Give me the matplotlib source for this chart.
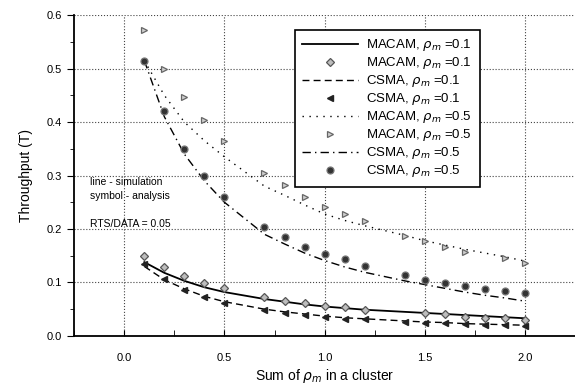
import matplotlib
matplotlib.use('Agg')
from matplotlib import pyplot as plt
from matplotlib.ticker import MultipleLocator

# x grid of the simulation / analysis points
x_all = [0.1, 0.2, 0.3, 0.4, 0.5, 0.7, 0.8, 0.9, 1.0, 1.1, 1.2, 1.4, 1.5, 1.6, 1.7, 1.8, 1.9, 2.0]

# simulation curves (lines)
macam01_sim = [0.138, 0.118, 0.103, 0.091, 0.082, 0.069, 0.064, 0.059, 0.055, 0.052, 0.049, 0.045, 0.043, 0.041, 0.039, 0.037, 0.035, 0.033]
csma01_sim = [0.130, 0.105, 0.088, 0.074, 0.064, 0.050, 0.045, 0.041, 0.037, 0.034, 0.032, 0.028, 0.026, 0.025, 0.023, 0.022, 0.021, 0.020]
macam05_sim = [0.515, 0.450, 0.400, 0.365, 0.335, 0.280, 0.263, 0.245, 0.228, 0.216, 0.206, 0.188, 0.178, 0.170, 0.162, 0.155, 0.148, 0.140]
csma05_sim = [0.515, 0.410, 0.340, 0.290, 0.250, 0.190, 0.172, 0.155, 0.141, 0.129, 0.119, 0.103, 0.096, 0.089, 0.082, 0.076, 0.071, 0.065]

# analysis points (symbols)
x_macam01 = [0.1, 0.2, 0.3, 0.4, 0.5, 0.7, 0.8, 0.9, 1.0, 1.1, 1.2, 1.5, 1.6, 1.7, 1.8, 1.9, 2.0]
macam01_ana = [0.150, 0.129, 0.112, 0.099, 0.090, 0.073, 0.066, 0.062, 0.056, 0.054, 0.049, 0.042, 0.041, 0.036, 0.034, 0.033, 0.030]
csma01_ana = [0.134, 0.107, 0.086, 0.073, 0.062, 0.049, 0.043, 0.039, 0.036, 0.032, 0.031, 0.026, 0.024, 0.024, 0.022, 0.021, 0.020, 0.019]
x_macam05 = [0.1, 0.2, 0.3, 0.4, 0.5, 0.7, 0.8, 0.9, 1.0, 1.1, 1.2, 1.4, 1.5, 1.6, 1.7, 1.9, 2.0]
macam05_ana = [0.572, 0.500, 0.447, 0.404, 0.364, 0.305, 0.282, 0.260, 0.241, 0.228, 0.215, 0.187, 0.178, 0.167, 0.157, 0.146, 0.136]
csma05_ana = [0.515, 0.420, 0.350, 0.300, 0.260, 0.204, 0.185, 0.167, 0.153, 0.144, 0.131, 0.114, 0.105, 0.099, 0.093, 0.088, 0.084, 0.080]

x_ticks = [0.0, 0.5, 1.0, 1.5, 2.0]
y_ticks = [0.0, 0.1, 0.2, 0.3, 0.4, 0.5, 0.6]

plt.rcParams['font.family'] = ['Liberation Sans', 'DejaVu Sans']
plt.rcParams['mathtext.fontset'] = 'dejavusans'

fig = plt.figure(figsize=(5.75, 3.87), dpi=100)
ax = fig.add_axes([0.129, 0.132, 0.871, 0.829])

lab = lambda name, v: name + r', $\rho_m$ =' + v

ax.plot(x_all, macam01_sim, color='black', lw=1.3, label=lab('MACAM', '0.1'))
ax.plot(x_macam01, macam01_ana, ls='none', marker='D', ms=4, mfc='#bdbdbd', mec='#555555', mew=0.9, label=lab('MACAM', '0.1'))
ax.plot(x_all, csma01_sim, color='black', lw=1.0, ls=(0, (5, 3)), label=lab('CSMA', '0.1'))
ax.plot(x_all, csma01_ana, ls='none', marker='<', ms=5, mfc='#222222', mec='#222222', label=lab('CSMA', '0.1'))
ax.plot(x_all, macam05_sim, color='black', lw=1.0, ls=(0, (1, 4)), label=lab('MACAM', '0.5'))
ax.plot(x_macam05, macam05_ana, ls='none', marker='>', ms=5, mfc='#cfcfcf', mec='#666666', mew=0.9, label=lab('MACAM', '0.5'))
ax.plot(x_all, csma05_sim, color='black', lw=1.0, ls=(0, (6, 3, 1, 3)), label=lab('CSMA', '0.5'))
ax.plot(x_all, csma05_ana, ls='none', marker='o', ms=5, mfc='#333333', mec='#777777', mew=0.9, label=lab('CSMA', '0.5'))

ax.set_xticks(x_ticks)
ax.set_xticklabels(['%.1f' % v for v in x_ticks])
ax.set_yticks(y_ticks)
ax.set_yticklabels(['%.1f' % v for v in y_ticks])
ax.xaxis.set_minor_locator(MultipleLocator(0.25))
ax.yaxis.set_minor_locator(MultipleLocator(0.05))
ax.set_xlim(-0.25, 2.25)
ax.set_ylim(0.0, 0.6)
ax.tick_params(axis='x', which='both', direction='in', length=4, labelsize=8, pad=12)
ax.tick_params(axis='y', which='major', direction='out', length=5, labelsize=8)
ax.tick_params(axis='y', which='minor', direction='out', length=3)
ax.spines['top'].set_visible(False)
ax.spines['right'].set_visible(False)
ax.spines['left'].set_linewidth(1.3)
ax.spines['bottom'].set_linewidth(1.3)
ax.grid(True, which='major', ls=':', color='#444444', lw=0.8)

ax.set_xlabel(r'Sum of $\rho_m$ in a cluster', fontsize=10, labelpad=3)
ax.set_ylabel('Throughput (T)', fontsize=10, labelpad=10)

ax.text(-0.17, 0.282, 'line - simulation', fontsize=7.5)
ax.text(-0.17, 0.256, 'symbol - analysis', fontsize=7.5)
ax.text(-0.17, 0.204, 'RTS/DATA = 0.05', fontsize=7.5)

leg = ax.legend(loc='upper left', bbox_to_anchor=(0.44, 0.955), fontsize=9.5, frameon=True,
                fancybox=False, edgecolor='black', framealpha=1, handlelength=4.2,
                labelspacing=0.15, borderpad=0.6, handletextpad=0.6, borderaxespad=0)
leg.get_frame().set_linewidth(1.2)

fig.savefig('out.png', dpi=100)
